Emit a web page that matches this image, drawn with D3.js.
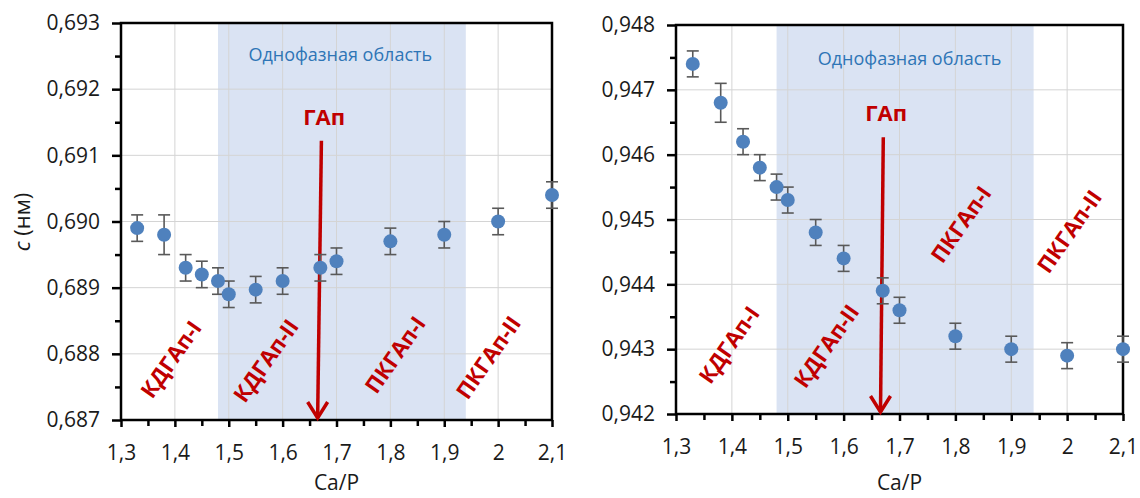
<!DOCTYPE html>
<html>
<head>
<meta charset="utf-8" />
<title></title>
<style>
  body { margin: 0; background: #fff; }
  text { font-family: "Open Sans", sans-serif; }
  .tick text { font-size: 21px; fill: #1a1a1a; }
  .grid line { stroke: #d4d4d4; stroke-width: 1px; }
  .phase { font-weight: bold; font-size: 22px; fill: #c00000; }
</style>
</head>
<body>
<script src="https://cdnjs.cloudflare.com/ajax/libs/d3/7.8.5/d3.min.js"></script>
<script>
// Ca/P ratios
var caP = [1.33, 1.38, 1.42, 1.45, 1.48, 1.50, 1.55, 1.60, 1.67, 1.70, 1.80, 1.90, 2.00, 2.10];

// lattice parameter c (nm) and errors
var cVals = [0.6899, 0.6898, 0.6893, 0.6892, 0.6891, 0.6889, 0.68897, 0.6891, 0.6893, 0.6894, 0.6897, 0.6898, 0.6900, 0.6904];
var cErr  = [0.0002, 0.0003, 0.0002, 0.0002, 0.0002, 0.0002, 0.0002, 0.0002, 0.0002, 0.0002, 0.0002, 0.0002, 0.0002, 0.0002];

// lattice parameter a (nm) and errors
var aVals = [0.9474, 0.9468, 0.9462, 0.9458, 0.9455, 0.9453, 0.9448, 0.9444, 0.9439, 0.9436, 0.9432, 0.9430, 0.9429, 0.9430];
var aErr  = [0.0002, 0.0003, 0.0002, 0.0002, 0.0002, 0.0002, 0.0002, 0.0002, 0.0002, 0.0002, 0.0002, 0.0002, 0.0002, 0.0002];

var xTicks = [1.3, 1.4, 1.5, 1.6, 1.7, 1.8, 1.9, 2.0, 2.1];
var cTicks = [0.687, 0.688, 0.689, 0.690, 0.691, 0.692, 0.693];
var aTicks = [0.942, 0.943, 0.944, 0.945, 0.946, 0.947, 0.948];

var phaseNames = ["КДГАп-I", "КДГАп-II", "ПКГАп-I", "ПКГАп-II"];
var singlePhase = [1.48, 1.94];

var fmtX = function(d) { return String(+d.toFixed(1)).replace(".", ","); };
var fmtY = function(d) { return d.toFixed(3).replace(".", ","); };

var svg = d3.select("body").append("svg")
    .attr("width", 1140)
    .attr("height", 498);

function panel(opt) {
  var x = d3.scaleLinear().domain([1.3, 2.1]).range([opt.left, opt.right]);
  var y = d3.scaleLinear().domain([opt.yTicks[0], opt.yTicks[6]]).range([opt.bottom, opt.top]);
  var g = svg.append("g");

  // single-phase band
  g.append("rect")
    .attr("x", x(singlePhase[0]))
    .attr("y", opt.top)
    .attr("width", x(singlePhase[1]) - x(singlePhase[0]))
    .attr("height", opt.bottom - opt.top)
    .attr("fill", "#dae3f3");

  // grid
  var grid = g.append("g").attr("class", "grid");
  grid.selectAll(".gx").data(xTicks.slice(1, -1)).enter().append("line")
    .attr("x1", function(d) { return x(d); }).attr("x2", function(d) { return x(d); })
    .attr("y1", opt.top).attr("y2", opt.bottom);
  grid.selectAll(".gy").data(opt.yTicks.slice(1, -1)).enter().append("line")
    .attr("y1", function(d) { return y(d); }).attr("y2", function(d) { return y(d); })
    .attr("x1", opt.left).attr("x2", opt.right);

  // minor ticks
  var xMinor = d3.range(1.35, 2.1, 0.1);
  g.append("g")
    .attr("transform", "translate(0," + opt.bottom + ")")
    .call(d3.axisBottom(x).tickValues(xMinor).tickSize(6).tickFormat(""))
    .call(function(s) { s.select(".domain").remove(); s.selectAll("line").attr("stroke", "#000").attr("stroke-width", 2.5); });
  var yMinor = d3.range(opt.yTicks[0] + 0.0005, opt.yTicks[6], 0.001);
  g.append("g")
    .attr("transform", "translate(" + opt.left + ",0)")
    .call(d3.axisLeft(y).tickValues(yMinor).tickSize(6).tickFormat(""))
    .call(function(s) { s.select(".domain").remove(); s.selectAll("line").attr("stroke", "#000").attr("stroke-width", 2.5); });

  // frame
  g.append("rect")
    .attr("x", opt.left).attr("y", opt.top)
    .attr("width", opt.right - opt.left).attr("height", opt.bottom - opt.top)
    .attr("fill", "none").attr("stroke", "#000").attr("stroke-width", 2.5);

  // major axes
  g.append("g")
    .attr("transform", "translate(0," + opt.bottom + ")")
    .call(d3.axisBottom(x).tickValues(xTicks).tickSize(7).tickPadding(18).tickFormat(fmtX))
    .call(function(s) {
      s.select(".domain").remove();
      s.selectAll("line").attr("stroke", "#000").attr("stroke-width", 2.5);
      s.selectAll("text").attr("font-family", null).attr("font-size", null);
    });
  g.append("g")
    .attr("transform", "translate(" + opt.left + ",0)")
    .call(d3.axisLeft(y).tickValues(opt.yTicks).tickSize(9).tickPadding(12).tickFormat(fmtY))
    .call(function(s) {
      s.select(".domain").remove();
      s.selectAll("line").attr("stroke", "#000").attr("stroke-width", 2.5);
      s.selectAll("text").attr("font-family", null).attr("font-size", null);
    });

  // region label
  g.append("text")
    .attr("x", x(opt.regionPos[0])).attr("y", y(opt.regionPos[1]))
    .attr("text-anchor", "middle").attr("dominant-baseline", "middle")
    .attr("font-size", 18).attr("fill", "#2e75b6")
    .text("Однофазная область");

  // HAp arrow
  var ax0 = x(opt.arrow[0]), ay0 = y(opt.arrow[1]), ax1 = x(opt.arrow[2]), ay1 = y(opt.arrow[3]);
  var arrow = g.append("g").attr("stroke", "#c00000").attr("stroke-width", 3.5).attr("fill", "none");
  arrow.append("line").attr("x1", ax0).attr("y1", ay0).attr("x2", ax1).attr("y2", ay1 - 2);
  arrow.append("path")
    .attr("d", "M" + (ax1 - 10) + "," + (ay1 - 18) + "L" + ax1 + "," + (ay1 - 2) + "L" + (ax1 + 10) + "," + (ay1 - 18));
  g.append("text")
    .attr("x", x(opt.hapPos[0])).attr("y", y(opt.hapPos[1]))
    .attr("text-anchor", "middle").attr("dominant-baseline", "middle")
    .attr("class", "phase")
    .text("ГАп");

  // phase labels
  g.selectAll(".ph").data(phaseNames).enter().append("text")
    .attr("class", "phase")
    .attr("text-anchor", "middle").attr("dominant-baseline", "middle")
    .attr("transform", function(d, i) {
      return "translate(" + x(opt.phasePos[i][0]) + "," + y(opt.phasePos[i][1]) + ") rotate(-55)";
    })
    .text(function(d) { return d; });

  // error bars
  var pts = caP.map(function(d, i) { return { x: d, y: opt.vals[i], e: opt.errs[i] }; });
  var eb = g.append("g").attr("stroke", "#595959").attr("stroke-width", 1.6);
  eb.selectAll(".v").data(pts).enter().append("line")
    .attr("x1", function(d) { return x(d.x); }).attr("x2", function(d) { return x(d.x); })
    .attr("y1", function(d) { return y(d.y - d.e); }).attr("y2", function(d) { return y(d.y + d.e); });
  [-1, 1].forEach(function(s) {
    eb.selectAll(".c" + s).data(pts).enter().append("line")
      .attr("x1", function(d) { return x(d.x) - 6; }).attr("x2", function(d) { return x(d.x) + 6; })
      .attr("y1", function(d) { return y(d.y + s * d.e); }).attr("y2", function(d) { return y(d.y + s * d.e); });
  });

  // points
  g.selectAll("circle").data(pts).enter().append("circle")
    .attr("cx", function(d) { return x(d.x); })
    .attr("cy", function(d) { return y(d.y); })
    .attr("r", 7)
    .attr("fill", "#4f81bd");

  // x title
  g.append("text")
    .attr("x", (opt.left + opt.right) / 2).attr("y", 490)
    .attr("text-anchor", "middle").attr("font-size", 21).attr("fill", "#1a1a1a")
    .text("Ca/P");
}

panel({
  left: 121, right: 552, top: 23, bottom: 420,
  yTicks: cTicks, vals: cVals, errs: cErr,
  regionPos: [1.707, 0.6925],
  hapPos: [1.677, 0.69155],
  arrow: [1.672, 0.69122, 1.665, 0.687],
  phasePos: [[1.396, 0.6879], [1.572, 0.68788], [1.812, 0.68797], [1.985, 0.68793]]
});

panel({
  left: 676, right: 1123, top: 25, bottom: 414,
  yTicks: aTicks, vals: aVals, errs: aErr,
  regionPos: [1.718, 0.94746],
  hapPos: [1.676, 0.94661],
  arrow: [1.671, 0.94627, 1.666, 0.942],
  phasePos: [[1.398, 0.94305], [1.572, 0.94303], [1.813, 0.94491], [2.007, 0.9448]]
});

// y title of left panel
var yt = svg.append("text")
  .attr("transform", "translate(30,222) rotate(-90)")
  .attr("text-anchor", "middle").attr("font-size", 22).attr("fill", "#1a1a1a");
yt.append("tspan").attr("font-style", "italic").text("c");
yt.append("tspan").text(" (нм)");
</script>
</body>
</html>
